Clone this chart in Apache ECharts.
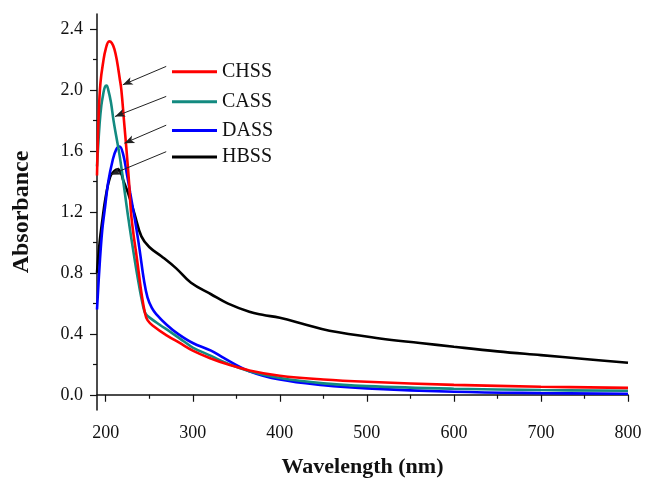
<!DOCTYPE html>
<html>
<head>
<meta charset="utf-8">
<script src="https://cdn.jsdelivr.net/npm/echarts@6/dist/echarts.min.js"></script>
<style>
  html, body { margin: 0; padding: 0; background: #fff; }
  #chart { width: 646px; height: 479px; }
</style>
</head>
<body>
<div id="chart"></div>
<script>
// wavelength (nm) / absorbance
var chssNm  = [190, 192, 194, 197, 200, 204, 207, 210, 213, 216, 218, 221, 224, 227, 229, 232, 235, 238, 241, 245, 248, 255, 270, 285, 300, 320, 340, 365, 400, 450, 500, 600, 700, 800];
var chssAbs = [1.44, 1.85, 2.05, 2.18, 2.27, 2.32, 2.31, 2.27, 2.19, 2.08, 2.00, 1.80, 1.60, 1.38, 1.20, 1.05, 0.93, 0.80, 0.67, 0.54, 0.49, 0.45, 0.39, 0.34, 0.29, 0.24, 0.20, 0.16, 0.125, 0.10, 0.085, 0.065, 0.053, 0.045];

var cassNm  = [190, 193, 195, 197, 199, 201, 203, 206, 209, 212, 216, 220, 224, 227, 231, 237, 243, 246, 252, 262, 275, 290, 300, 321, 340, 365, 400, 450, 500, 600, 700, 800];
var cassAbs = [1.50, 1.78, 1.90, 1.97, 2.02, 2.03, 2.00, 1.92, 1.80, 1.70, 1.57, 1.41, 1.24, 1.12, 0.97, 0.76, 0.58, 0.53, 0.50, 0.46, 0.41, 0.35, 0.31, 0.255, 0.205, 0.155, 0.11, 0.075, 0.057, 0.04, 0.031, 0.026];

var dassNm  = [190, 193, 196, 199, 203, 208, 212, 216, 220, 224, 228, 232, 235, 239, 244, 248, 253, 258, 270, 283, 300, 321, 336, 365, 400, 450, 500, 600, 700, 800];
var dassAbs = [0.56, 0.85, 1.08, 1.22, 1.40, 1.54, 1.61, 1.63, 1.58, 1.46, 1.33, 1.20, 1.10, 0.95, 0.75, 0.64, 0.57, 0.53, 0.46, 0.40, 0.34, 0.29, 0.24, 0.155, 0.10, 0.063, 0.042, 0.02, 0.011, 0.007];

var hbssNm  = [190, 193, 196, 200, 205, 210, 214, 218, 220, 226, 233, 241, 250, 264, 281, 298, 321, 340, 365, 380, 400, 430, 457, 515, 561, 600, 650, 700, 750, 800];
var hbssAbs = [0.80, 1.00, 1.14, 1.30, 1.43, 1.47, 1.48, 1.45, 1.41, 1.32, 1.19, 1.04, 0.97, 0.91, 0.83, 0.735, 0.66, 0.60, 0.545, 0.525, 0.505, 0.46, 0.42, 0.37, 0.34, 0.315, 0.285, 0.26, 0.235, 0.21];

var seriesNames = ['CHSS', 'CASS', 'DASS', 'HBSS'];
var seriesColors = ['#ff0000', '#138a80', '#0000ff', '#000000'];

// axis ticks
var xLabels = [200, 300, 400, 500, 600, 700, 800];
var xMinor = [250, 350, 450, 550, 650, 750];
var yLabels = [0, 0.4, 0.8, 1.2, 1.6, 2.0, 2.4];
var yMinor = [0.2, 0.6, 1.0, 1.4, 1.8, 2.2];

// annotation arrows: [from legend line, to curve] in data units
var arrowFrom = [[269.5, 2.156], [269.5, 1.959], [269.5, 1.770], [269.5, 1.596]];
var arrowTo = [[219.6, 2.035], [210.7, 1.827], [221.5, 1.652], [206, 1.445]];

// legend rows (px from top)
var legendTops = [56.7, 86.7, 115.5, 142];

function pairs(xs, ys) {
    var out = [];
    for (var i = 0; i < xs.length; i++) out.push([xs[i], ys[i]]);
    return out;
}

var font = 'Liberation Serif';
var mychart = echarts.init(document.getElementById('chart'));

var allData = [pairs(chssNm, chssAbs), pairs(cassNm, cassAbs), pairs(dassNm, dassAbs), pairs(hbssNm, hbssAbs)];

var series = seriesNames.map(function (name, i) {
    return {
        name: name,
        type: 'line',
        xAxisIndex: 0,
        yAxisIndex: 0,
        data: allData[i],
        showSymbol: false,
        smooth: 0.4,
        lineStyle: { color: seriesColors[i], width: 2.6 },
        itemStyle: { color: seriesColors[i] },
        z: 4 - i,
        markLine: {
            silent: true,
            symbol: ['none', 'arrow'],
            symbolSize: [6, 10],
            label: { show: false },
            lineStyle: { color: '#222', width: 1, type: 'solid' },
            data: [[{ coord: arrowFrom[i] }, { coord: arrowTo[i] }]]
        }
    };
});

var legends = seriesNames.map(function (name, i) {
    return {
        orient: 'vertical',
        left: 167,
        top: legendTops[i],
        itemWidth: 45,
        itemHeight: 3,
        icon: 'rect',
        data: [name],
        textStyle: { fontFamily: font, fontSize: 20, color: '#111', lineHeight: 20 }
    };
});

var gridBox = { left: 97, right: 18, top: 14, bottom: 69, outerBoundsMode: 'none', containLabel: false };

var option = {
    backgroundColor: '#fff',
    animation: false,
    grid: [gridBox, gridBox],
    legend: legends,
    xAxis: [{
        type: 'value',
        gridIndex: 0,
        min: 190,
        max: 800,
        name: 'Wavelength (nm)',
        nameLocation: 'middle',
        nameGap: 46,
        nameTextStyle: { fontFamily: font, fontSize: 22, fontWeight: 'bold', color: '#111' },
        axisLine: { show: true, lineStyle: { color: '#111', width: 1.5 } },
        axisTick: { show: true, length: 7, customValues: xLabels, lineStyle: { color: '#111', width: 1.2 } },
        axisLabel: { customValues: xLabels, margin: 14, fontFamily: font, fontSize: 18, color: '#111' },
        splitLine: { show: false }
    }, {
        type: 'value',
        gridIndex: 1,
        min: 190,
        max: 800,
        axisLine: { show: false },
        axisTick: { show: true, length: 4, customValues: xMinor, lineStyle: { color: '#111', width: 1.2 } },
        axisLabel: { show: false },
        splitLine: { show: false }
    }],
    yAxis: [{
        type: 'value',
        gridIndex: 0,
        min: -0.1,
        max: 2.5,
        name: 'Absorbance',
        nameLocation: 'middle',
        nameGap: 63,
        nameTextStyle: { fontFamily: font, fontSize: 24, fontWeight: 'bold', color: '#111' },
        axisLine: { show: true, lineStyle: { color: '#111', width: 1.5 } },
        axisTick: { show: true, length: 7, customValues: yLabels, lineStyle: { color: '#111', width: 1.2 } },
        axisLabel: {
            customValues: yLabels, margin: 14, fontFamily: font, fontSize: 18, color: '#111',
            formatter: function (v) { return v.toFixed(1); }
        },
        splitLine: { show: false }
    }, {
        type: 'value',
        gridIndex: 1,
        min: -0.1,
        max: 2.5,
        axisLine: { show: false },
        axisTick: { show: true, length: 4, customValues: yMinor, lineStyle: { color: '#111', width: 1.2 } },
        axisLabel: { show: false },
        splitLine: { show: false }
    }],
    series: series
};
mychart.setOption(option);
</script>
</body>
</html>
